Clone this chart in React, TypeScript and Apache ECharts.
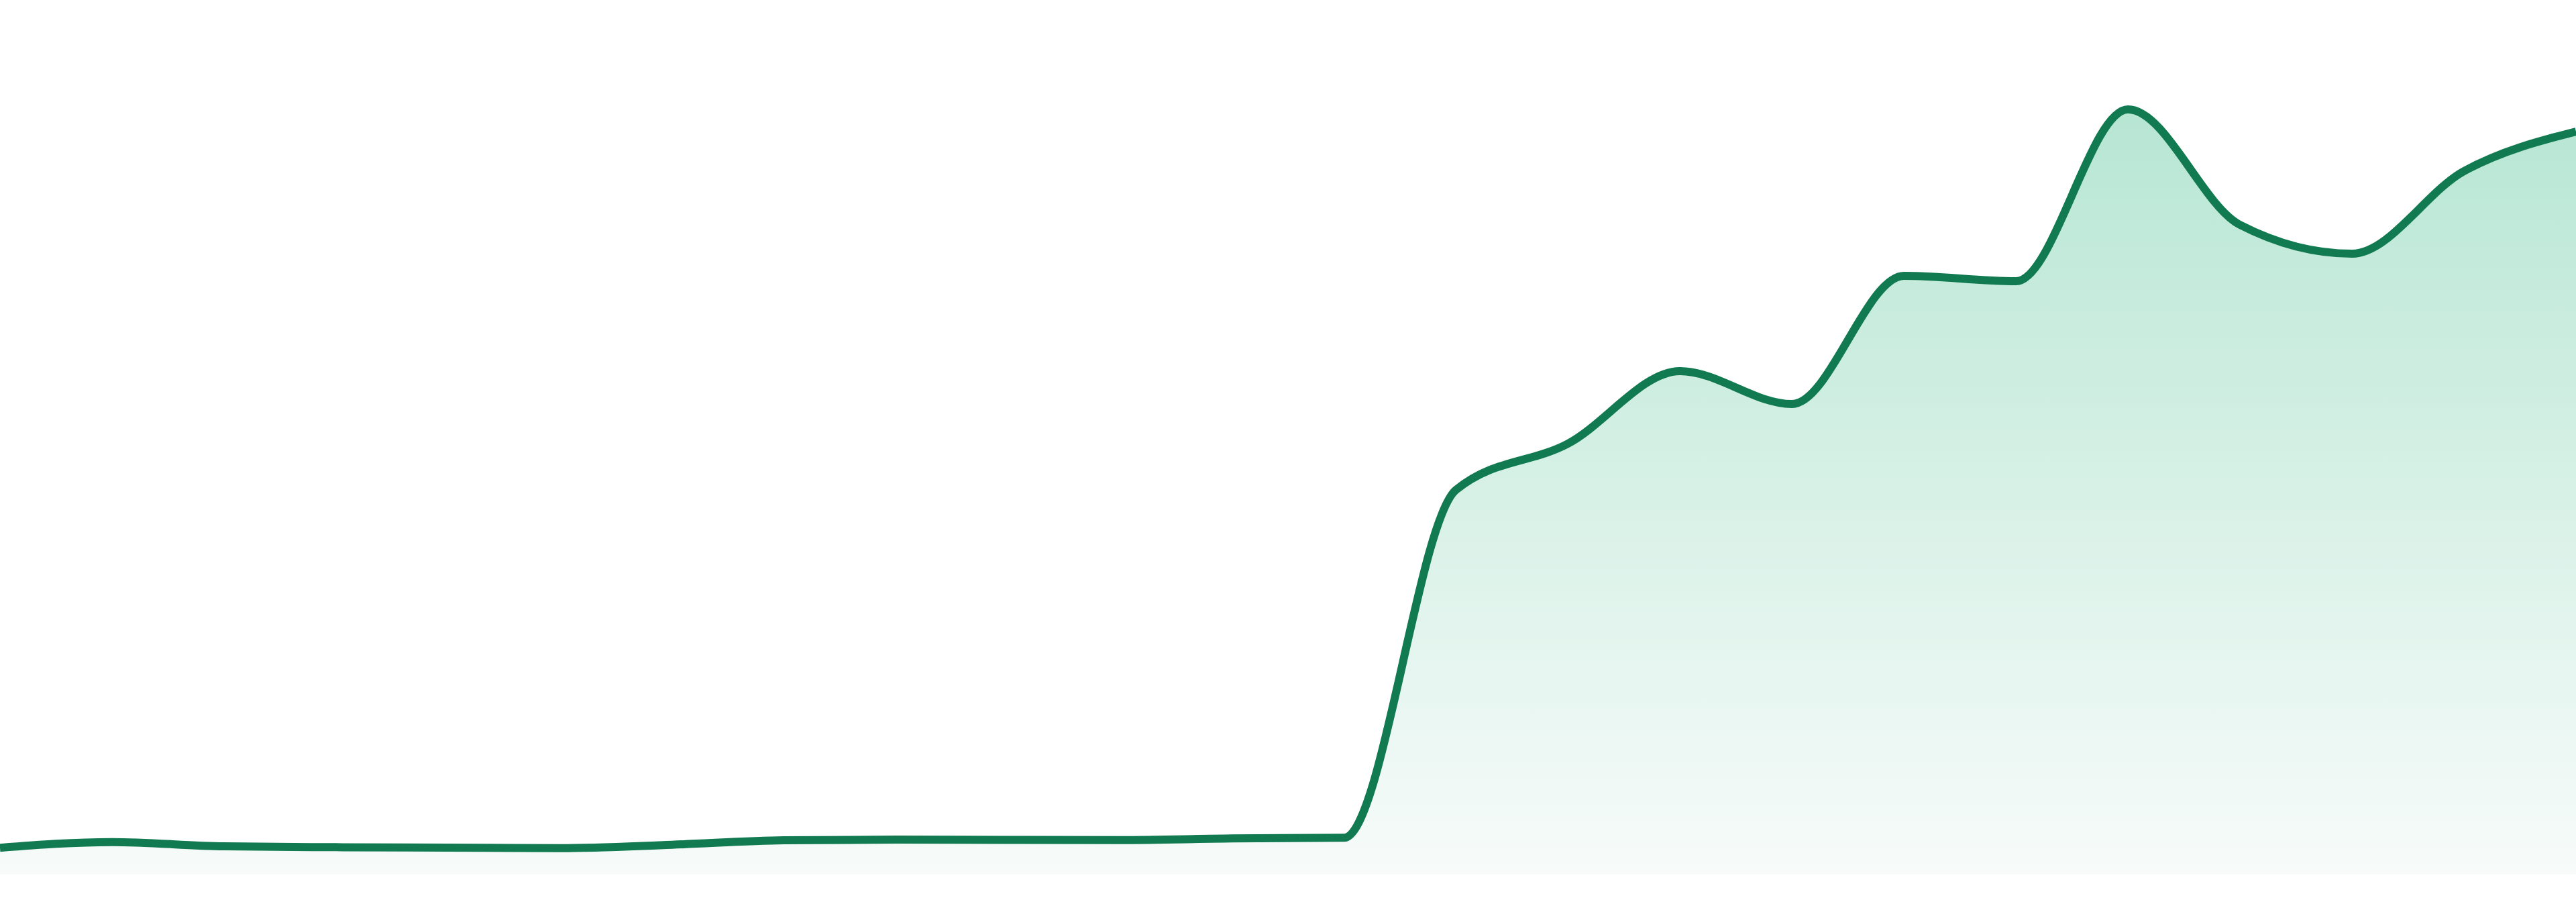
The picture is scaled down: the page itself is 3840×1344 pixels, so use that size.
import { useEffect, useRef } from "react";
import * as echarts from "echarts";

const hours = [
  "00:00", "01:00", "02:00", "03:00", "04:00", "05:00", "06:00", "07:00",
  "08:00", "09:00", "10:00", "11:00", "12:00", "13:00", "14:00", "15:00",
  "16:00", "17:00", "18:00", "19:00", "20:00", "21:00", "22:00", "23:00",
];

const values = [
  3.05, 3.71, 3.22, 3.12, 3.07, 3.02, 3.4, 3.91,
  3.99, 3.95, 3.94, 4.12, 4.2, 43.98, 49.27, 57.56,
  53.8, 68.46, 67.84, 87.49, 74.29, 70.99, 80.43, 84.96,
];

const yMin = 0;
const yMax = 100;

const LINE_COLOR = "#117a50";
const FILL_TOP = "#b7e6d3";
const FILL_BOTTOM = "#f7fbfa";

// Monotone cubic (Fritsch–Carlson style, as d3.curveMonotoneX) through pixel points.
function sign(x: number) {
  return x < 0 ? -1 : 1;
}
function tangents(pts: number[][]): number[] {
  const n = pts.length;
  const t: number[] = new Array(n).fill(0);
  for (let i = 1; i < n - 1; i++) {
    const h0 = pts[i][0] - pts[i - 1][0];
    const h1 = pts[i + 1][0] - pts[i][0];
    const s0 = (pts[i][1] - pts[i - 1][1]) / h0;
    const s1 = (pts[i + 1][1] - pts[i][1]) / h1;
    const p = (s0 * h1 + s1 * h0) / (h0 + h1);
    t[i] =
      (sign(s0) + sign(s1)) *
        Math.min(Math.abs(s0), Math.abs(s1), 0.5 * Math.abs(p)) || 0;
  }
  if (n > 1) {
    const h = pts[1][0] - pts[0][0];
    t[0] = (3 * (pts[1][1] - pts[0][1]) / h - t[1]) / 2;
    const hl = pts[n - 1][0] - pts[n - 2][0];
    t[n - 1] = (3 * (pts[n - 1][1] - pts[n - 2][1]) / hl - t[n - 2]) / 2;
  }
  return t;
}
function curvePath(pts: number[][]): string {
  const t = tangents(pts);
  let d = `M${pts[0][0]},${pts[0][1]}`;
  for (let i = 0; i < pts.length - 1; i++) {
    const [x0, y0] = pts[i];
    const [x1, y1] = pts[i + 1];
    const dx = (x1 - x0) / 3;
    d += ` C${x0 + dx},${y0 + dx * t[i]} ${x1 - dx},${y1 - dx * t[i + 1]} ${x1},${y1}`;
  }
  return d;
}

export default function App() {
  const ref = useRef<HTMLDivElement>(null);

  useEffect(() => {
    document.body.style.margin = "0";
    const chart = echarts.init(ref.current!, null, { renderer: "svg" });
    chart.setOption({
      animation: false,
      backgroundColor: "#ffffff",
      grid: { left: 0, right: 0, top: 0, bottom: 41 },
      xAxis: {
        type: "category",
        data: hours,
        boundaryGap: false,
        show: false,
      },
      yAxis: {
        type: "value",
        min: yMin,
        max: yMax,
        show: false,
      },
      series: [
        {
          type: "custom",
          coordinateSystem: "cartesian2d",
          data: values.map((v, i) => [i, v]),
          encode: { x: 0, y: 1 },
          silent: true,
          renderItem: (params: any, api: any) => {
            if (params.dataIndex !== 0) return null;
            const pts = values.map((v, i) => api.coord([i, v]));
            const base = api.coord([0, yMin])[1];
            const line = curvePath(pts);
            const last = pts[pts.length - 1];
            const area = `${line} L${last[0]},${base} L${pts[0][0]},${base} Z`;
            return {
              type: "group",
              children: [
                {
                  type: "path",
                  shape: { pathData: area },
                  style: {
                    fill: new echarts.graphic.LinearGradient(0, 0, 0, 1, [
                      { offset: 0, color: FILL_TOP },
                      { offset: 1, color: FILL_BOTTOM },
                    ]),
                    stroke: "none",
                  },
                },
                {
                  type: "path",
                  shape: { pathData: line },
                  style: {
                    fill: "none",
                    stroke: LINE_COLOR,
                    lineWidth: 12,
                  },
                },
              ],
            };
          },
        },
      ],
    });
    return () => chart.dispose();
  }, []);

  return (
    <div
      ref={ref}
      style={{ position: "absolute", left: 0, top: 0, width: 3840, height: 1344 }}
    />
  );
}
